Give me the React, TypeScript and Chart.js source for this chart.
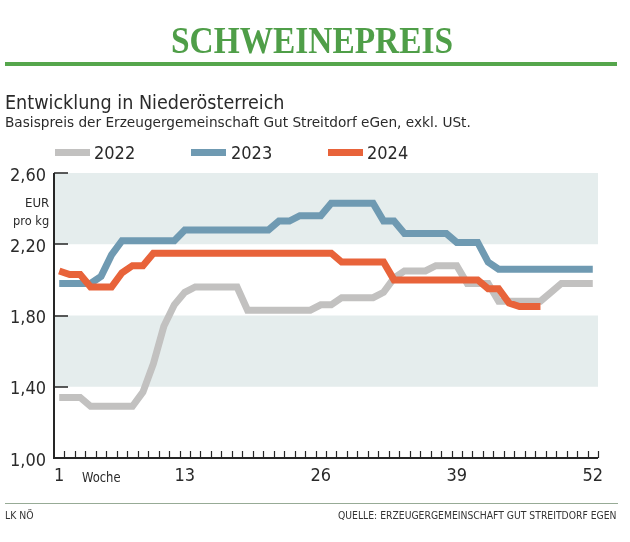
import React, { useEffect, useLayoutEffect, useRef, useState } from 'react';
import { Chart, registerables } from 'chart.js';

Chart.register(...registerables);

// ---------- data ----------
const weeks = [
  1, 2, 3, 4, 5, 6, 7, 8, 9, 10, 11, 12, 13, 14, 15, 16, 17, 18, 19, 20, 21, 22, 23, 24, 25, 26,
  27, 28, 29, 30, 31, 32, 33, 34, 35, 36, 37, 38, 39, 40, 41, 42, 43, 44, 45, 46, 47, 48, 49, 50, 51, 52,
];
const prices2022 = [
  1.34, 1.34, 1.34, 1.29, 1.29, 1.29, 1.29, 1.29, 1.37, 1.53, 1.74, 1.86, 1.93, 1.96, 1.96, 1.96, 1.96, 1.96,
  1.83, 1.83, 1.83, 1.83, 1.83, 1.83, 1.83, 1.86, 1.86, 1.9, 1.9, 1.9, 1.9, 1.93, 2.01, 2.05, 2.05, 2.05,
  2.08, 2.08, 2.08, 1.98, 1.98, 1.98, 1.88, 1.88, 1.88, 1.88, 1.88, 1.93, 1.98, 1.98, 1.98, 1.98,
];
const prices2023 = [
  1.98, 1.98, 1.98, 1.98, 2.02, 2.14, 2.22, 2.22, 2.22, 2.22, 2.22, 2.22, 2.28, 2.28, 2.28, 2.28, 2.28, 2.28,
  2.28, 2.28, 2.28, 2.33, 2.33, 2.36, 2.36, 2.36, 2.43, 2.43, 2.43, 2.43, 2.43, 2.33, 2.33, 2.26, 2.26, 2.26,
  2.26, 2.26, 2.21, 2.21, 2.21, 2.1, 2.06, 2.06, 2.06, 2.06, 2.06, 2.06, 2.06, 2.06, 2.06, 2.06,
];
const prices2024 = [
  2.05, 2.03, 2.03, 1.96, 1.96, 1.96, 2.04, 2.08, 2.08, 2.15, 2.15, 2.15, 2.15, 2.15, 2.15, 2.15, 2.15, 2.15,
  2.15, 2.15, 2.15, 2.15, 2.15, 2.15, 2.15, 2.15, 2.15, 2.1, 2.1, 2.1, 2.1, 2.1, 2.0, 2.0, 2.0, 2.0,
  2.0, 2.0, 2.0, 2.0, 2.0, 1.95, 1.95, 1.87, 1.85, 1.85, 1.85,
];
const seriesNames = ['2022', '2023', '2024'];
const seriesColors = ['#c2c1c0', '#6f9ab2', '#e8633a'];
const xTickValues = [1, 13, 26, 39, 52];
const yTickValues = [1.0, 1.4, 1.8, 2.2, 2.6];
const bandRanges = [
  [1.4, 1.8],
  [2.2, 2.6],
];

// ---------- styles ----------
const NARROW = '"Liberation Sans Narrow", "Arial Narrow", "DejaVu Sans Condensed", sans-serif';
const SERIF = '"Liberation Serif", "DejaVu Serif", serif';
const TEXT = '#2a2a2a';
const GREEN = '#4f9e48';
const BAND = '#e5eded';

const decoPlugin = {
  id: 'deco',
  beforeDatasetsDraw(chart: any) {
    const { ctx, chartArea, scales } = chart;
    const y = scales.y;
    ctx.save();
    ctx.fillStyle = BAND;
    for (const [a, b] of bandRanges) {
      const y1 = y.getPixelForValue(b);
      const y2 = y.getPixelForValue(a);
      ctx.fillRect(chartArea.left, y1, chartArea.right - chartArea.left, y2 - y1);
    }
    ctx.restore();
  },
  afterDatasetsDraw(chart: any) {
    const { ctx, chartArea, scales } = chart;
    const { x, y } = scales;
    const L = chartArea.left;
    const B = chartArea.bottom;
    ctx.save();
    ctx.strokeStyle = '#262626';
    ctx.lineWidth = 2;
    ctx.beginPath();
    ctx.moveTo(L, chartArea.top);
    ctx.lineTo(L, B);
    ctx.lineTo(chartArea.right, B);
    ctx.stroke();
    ctx.lineWidth = 1.5;
    ctx.beginPath();
    for (const v of yTickValues) {
      if (v === yTickValues[0]) continue;
      const py = Math.round(y.getPixelForValue(v));
      ctx.moveTo(L, py);
      ctx.lineTo(L + 14, py);
    }
    ctx.stroke();
    ctx.lineWidth = 1.2;
    ctx.beginPath();
    for (let w = x.min + 1; w <= x.max + 0.01; w += 1) {
      const px = Math.round(x.getPixelForValue(w)) + 0.5;
      ctx.moveTo(px, B);
      ctx.lineTo(px, B - 7);
    }
    ctx.stroke();
    ctx.restore();
  },
};

function FitText(props: {
  text: string;
  left?: number;
  right?: number;
  baseline: number;
  width: number;
  size: number;
  family: string;
  weight?: string | number;
  color?: string;
  ascentRatio?: number;
}) {
  const ref = useRef<HTMLSpanElement>(null);
  const [sx, setSx] = useState(1);
  useLayoutEffect(() => {
    const el = ref.current;
    if (el && el.offsetWidth) setSx(props.width / el.offsetWidth);
  }, [props.text, props.width]);
  const asc = props.ascentRatio ?? 0.85;
  const left = props.left !== undefined ? props.left : (props.right as number) - props.width;
  return (
    <span
      ref={ref}
      style={{
        position: 'absolute',
        left,
        top: props.baseline - asc * props.size,
        fontSize: props.size,
        lineHeight: 1,
        fontFamily: props.family,
        fontWeight: props.weight ?? 'normal',
        color: props.color ?? TEXT,
        whiteSpace: 'nowrap',
        transform: `scaleX(${sx})`,
        transformOrigin: 'left top',
      }}
    >
      {props.text}
    </span>
  );
}

function Swatch({ left, color }: { left: number; color: string }) {
  return (
    <div style={{ position: 'absolute', left, top: 149, width: 35, height: 7, background: color }} />
  );
}

export default function App() {
  const canvasRef = useRef<HTMLCanvasElement>(null);

  useEffect(() => {
    const canvas = canvasRef.current;
    if (!canvas) return;
    const datasets = [prices2022, prices2023, prices2024].map((d, i) => ({
      label: seriesNames[i],
      data: d,
      borderColor: seriesColors[i],
      backgroundColor: seriesColors[i],
      borderWidth: 7,
      pointRadius: 0,
      tension: 0,
      fill: false,
      order: 2 - i,
    }));
    const chart = new Chart(canvas, {
      type: 'line',
      data: { labels: weeks, datasets },
      plugins: [decoPlugin],
      options: {
        animation: false,
        responsive: false,
        devicePixelRatio: 1,
        layout: { padding: { top: 173, right: 32, left: 0, bottom: 0 } },
        plugins: { legend: { display: false }, tooltip: { enabled: false } },
        scales: {
          x: {
            type: 'linear',
            min: 0.5,
            max: 52.5,
            afterFit: (s: any) => {
              s.height = 84;
            },
            afterBuildTicks: (s: any) => {
              s.ticks = xTickValues.map((v) => ({ value: v }));
            },
            grid: { display: false, drawTicks: false },
            border: { display: false },
            ticks: {
              autoSkip: false,
              maxRotation: 0,
              padding: 8,
              color: TEXT,
              font: { family: NARROW, size: 18 },
              callback: (v: any) => String(v),
            },
          },
          y: {
            min: 1.0,
            max: 2.6,
            afterFit: (s: any) => {
              s.width = 54;
            },
            afterBuildTicks: (s: any) => {
              s.ticks = yTickValues.map((v) => ({ value: v }));
            },
            grid: { display: false, drawTicks: false },
            border: { display: false },
            ticks: {
              padding: 8,
              labelOffset: 3,
              color: TEXT,
              font: { family: NARROW, size: 18 },
              callback: (v: any) => Number(v).toFixed(2).replace('.', ','),
            },
          },
        },
      } as any,
    });
    return () => chart.destroy();
  }, []);

  return (
    <div
      style={{
        position: 'fixed',
        left: 0,
        top: 0,
        width: 630,
        height: 542,
        background: '#ffffff',
        overflow: 'hidden',
      }}
    >
      <canvas
        ref={canvasRef}
        width={630}
        height={542}
        style={{ position: 'absolute', left: 0, top: 0, width: 630, height: 542, display: 'block' }}
      />
      <FitText text="SCHWEINEPREIS" left={171} baseline={53} width={282} size={38} family={SERIF} weight="bold" color={GREEN} ascentRatio={0.84} />
      <div style={{ position: 'absolute', left: 5, top: 62, width: 612, height: 4, background: '#55a64c' }} />
      <FitText text="Entwicklung in Niederösterreich" left={5} baseline={109} width={280} size={19} family={NARROW} />
      <FitText text="Basispreis der Erzeugergemeinschaft Gut Streitdorf eGen, exkl. USt." left={5} baseline={127} width={466} size={14.5} family={NARROW} />
      <Swatch left={55} color={seriesColors[0]} />
      <FitText text={seriesNames[0]} left={94} baseline={159} width={41} size={18} family={NARROW} />
      <Swatch left={191} color={seriesColors[1]} />
      <FitText text={seriesNames[1]} left={231} baseline={159} width={41} size={18} family={NARROW} />
      <Swatch left={328} color={seriesColors[2]} />
      <FitText text={seriesNames[2]} left={367} baseline={159} width={41} size={18} family={NARROW} />
      <FitText text="EUR" right={49} baseline={207} width={24} size={12} family={NARROW} />
      <FitText text="pro kg" right={49} baseline={225} width={36} size={12} family={NARROW} />
      <FitText text="Woche" left={82} baseline={482} width={39} size={14.5} family={NARROW} />
      <div style={{ position: 'absolute', left: 5, top: 503, width: 613, height: 1, background: '#97ab96' }} />
      <FitText text="LK NÖ" left={5} baseline={519} width={29} size={10} family={NARROW} color="#333" />
      <FitText text="QUELLE: ERZEUGERGEMEINSCHAFT GUT STREITDORF EGEN" right={617} baseline={519} width={279} size={10} family={NARROW} color="#333" />
    </div>
  );
}
